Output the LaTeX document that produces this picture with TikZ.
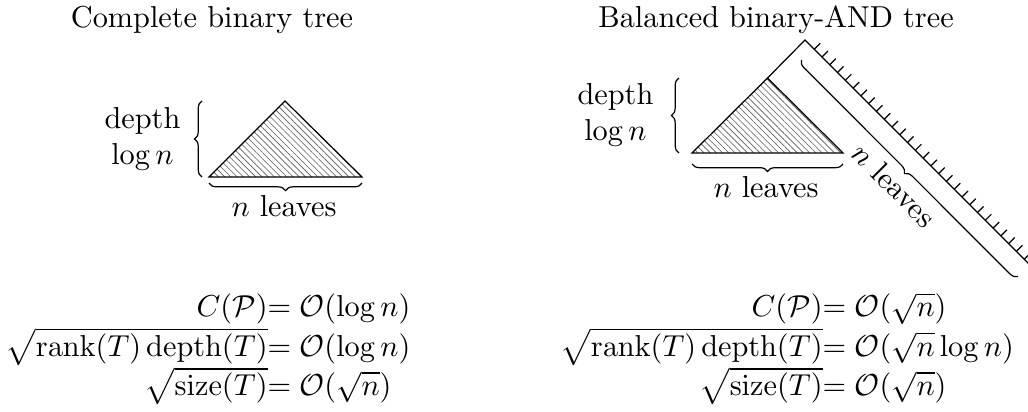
\documentclass[tikz,border=0pt]{standalone}
\usepackage{amsmath}
\usetikzlibrary{patterns.meta,decorations.pathreplacing,calc,positioning}

\begin{document}
\begin{tikzpicture}[
    x=0.33pt, y=-0.33pt,
    hatched/.style={draw, pattern={Lines[angle=-45, distance=1.45pt, line width=0.2pt]}, pattern color=black!65},
    curly/.style={decorate, decoration={brace, amplitude=2.5pt}},
    leafmark/.style={line width=0.4pt},
    txt/.style={align=center, inner sep=1pt}
]
    \useasboundingbox (0,0) rectangle (1028,412);

    % Titles
    \node (titleL) at (212,20) {Complete binary tree};
    \node (titleR) at (776,20) {Balanced binary-AND tree};

    % Complete binary tree
    \coordinate (apexL) at (285,101);
    \coordinate (leftL) at (209,177);
    \coordinate (rightL) at (362,177);
    \draw[hatched] (leftL) -- (apexL) -- (rightL) -- cycle;
    \draw[curly] ([xshift=-2.3pt]leftL) -- ([xshift=-2.3pt]leftL |- apexL);
    \draw[curly] ([yshift=-2pt]rightL) -- ([yshift=-2pt]leftL);
    \node[txt, anchor=east] (depthL) at (184,139) {depth\\$\log n$};
    \node (leavesL) at (284,206) {$n$ leaves};

    % Balanced binary-AND tree
    \coordinate (apexR) at (805,40);
    \coordinate (leftR) at (692,153);
    \coordinate (topR) at (767.5,78);
    \coordinate (rightR) at (843,153);
    \coordinate (spineEnd) at (1034.8,269.8);
    \draw[hatched] (leftR) -- (topR) -- (rightR) -- cycle;
    \draw (topR) -- (apexR) -- (spineEnd);
    \foreach \i in {0,...,28}
        \draw[leafmark] ($(apexR)!{(13+11*\i)/325}!(spineEnd)$) -- ++(45:2.8pt);
    \draw[curly] ([xshift=-4.3pt]leftR) -- ([xshift=-4.3pt]leftR |- topR);
    \draw[curly] ([yshift=-3.6pt]rightR) -- ([yshift=-3.6pt]leftR);
    \coordinate (braceTop) at (801,59.5);
    \coordinate (braceEnd) at (1018,276.6);
    \draw[curly] (braceEnd) -- (braceTop);
    \node[txt, anchor=east] (depthR) at (657,115) {depth\\$\log n$};
    \node (leavesR) at (766,187) {$n$ leaves};
    \node[rotate=-45] (leavesD) at (894,185) {$n$ leaves};

    % Bounds
    \node[anchor=base west, inner sep=0pt] (boundsL) at (5,317) {$\begin{array}[t]{@{}r@{}l@{}}
        C(\mathcal{P}) & = \mathcal{O}(\log n)\\
        \sqrt{\operatorname{rank}(T)\operatorname{depth}(T)} & = \mathcal{O}(\log n)\\
        \sqrt{\operatorname{size}(T)} & = \mathcal{O}(\sqrt{n})
    \end{array}$};
    \node[anchor=base west, inner sep=0pt] (boundsR) at (560,317) {$\begin{array}[t]{@{}r@{}l@{}}
        C(\mathcal{P}) & = \mathcal{O}(\sqrt{n})\\
        \sqrt{\operatorname{rank}(T)\operatorname{depth}(T)} & = \mathcal{O}(\sqrt{n}\log n)\\
        \sqrt{\operatorname{size}(T)} & = \mathcal{O}(\sqrt{n})
    \end{array}$};
\end{tikzpicture}
\end{document}
